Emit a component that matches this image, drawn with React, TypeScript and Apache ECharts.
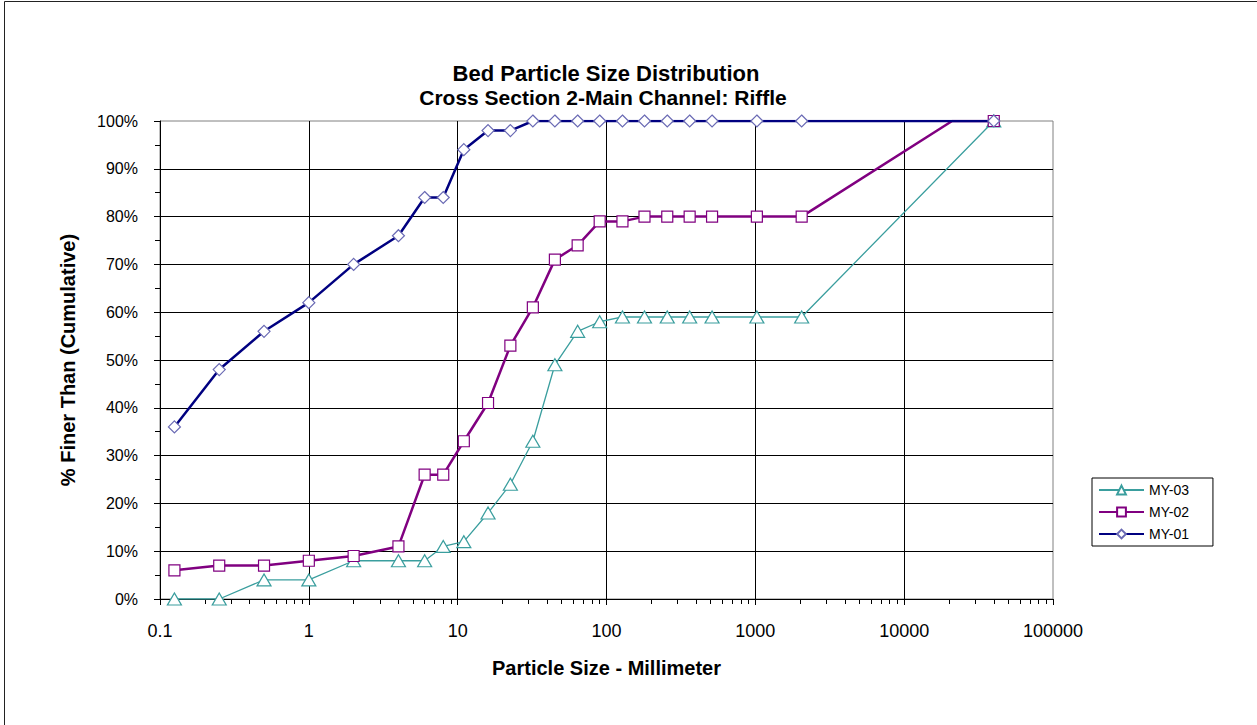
import React, { useEffect, useRef } from "react";
import * as echarts from "echarts";

const FONT = "'Liberation Sans', Arial, sans-serif";

const titleLines = ["Bed Particle Size Distribution", "Cross Section 2-Main Channel: Riffle"];
const xAxisName = "Particle Size - Millimeter";
const yAxisName = "% Finer Than (Cumulative)";
const legendOrder = ["MY-03", "MY-02", "MY-01"];

const sizesMY01 = [0.125, 0.25, 0.5, 1, 2, 4, 6, 8, 11, 16, 22.6, 32, 45, 64, 90, 128, 180, 256, 362, 512, 1024, 2048, 40000];
const valuesMY01 = [36, 48, 56, 62, 70, 76, 84, 84, 94, 98, 98, 100, 100, 100, 100, 100, 100, 100, 100, 100, 100, 100, 100];

const sizesMY02 = [0.125, 0.25, 0.5, 1, 2, 4, 6, 8, 11, 16, 22.6, 32, 45, 64, 90, 128, 180, 256, 362, 512, 1024, 2048, 21000, 40000];
const valuesMY02 = [6, 7, 7, 8, 9, 11, 26, 26, 33, 41, 53, 61, 71, 74, 79, 79, 80, 80, 80, 80, 80, 80, 100, 100];
const hiddenMarkerMY02 = [22];

const sizesMY03 = [0.125, 0.25, 0.5, 1, 2, 4, 6, 8, 11, 16, 22.6, 32, 45, 64, 90, 128, 180, 256, 362, 512, 1024, 2048, 40000];
const valuesMY03 = [0, 0, 4, 4, 8, 8, 8, 11, 12, 18, 24, 33, 49, 56, 58, 59, 59, 59, 59, 59, 59, 59, 100];

const xMin = 0.1;
const xMax = 100000;

function pairs(xs: number[], ys: number[], hidden: number[] = []) {
  return xs.map((x, i) =>
    hidden.includes(i) ? { value: [x, ys[i]], symbol: "none" } : { value: [x, ys[i]] }
  );
}

export default function App() {
  const ref = useRef<HTMLDivElement>(null);
  useEffect(() => {
    if (!ref.current) return;
    const chart = echarts.init(ref.current, null, { renderer: "svg" });
    const option: any = {
      animation: false,
      backgroundColor: "#fff",
      textStyle: { fontFamily: FONT },
      grid: {
        left: 160,
        right: 204,
        top: 121,
        bottom: 126,
        show: true,
        borderColor: "#808080",
        borderWidth: 1,
        backgroundColor: "transparent",
      },
      graphic: [
        {
          type: "rect",
          z: -10,
          shape: { x: 4.5, y: 1.5, width: 1320, height: 800 },
          style: { fill: "none", stroke: "#222", lineWidth: 1 },
          silent: true,
        },
        {
          type: "text",
          x: 606,
          y: 73,
          style: {
            text: titleLines[0],
            textAlign: "center",
            textVerticalAlign: "middle",
            font: `bold 22px ${FONT}`,
            fill: "#000",
          },
        },
        {
          type: "text",
          x: 603,
          y: 97,
          style: {
            text: titleLines[1],
            textAlign: "center",
            textVerticalAlign: "middle",
            font: `bold 21px ${FONT}`,
            fill: "#000",
          },
        },
      ],
      legend: {
        orient: "vertical",
        left: 1092,
        top: 478,
        data: legendOrder,
        borderColor: "#000",
        borderWidth: 1,
        padding: [5, 24, 5, 6],
        itemWidth: 45,
        itemHeight: 11,
        itemGap: 8,
        textStyle: { fontSize: 14, fontFamily: FONT, color: "#000" },
      },
      xAxis: {
        type: "log",
        logBase: 10,
        min: xMin,
        max: xMax,
        name: xAxisName,
        nameLocation: "middle",
        nameGap: 59,
        nameTextStyle: { fontSize: 20, fontWeight: "bold", color: "#000", fontFamily: FONT },
        axisLine: { show: true, lineStyle: { color: "#000", width: 1 } },
        axisTick: { show: true, inside: false, length: 6, lineStyle: { color: "#000" } },
        minorTick: { show: true, splitNumber: 9, length: 5, lineStyle: { color: "#000" } },
        axisLabel: {
          margin: 23,
          fontSize: 18,
          color: "#000",
          fontFamily: FONT,
          showMaxLabel: true,
          formatter: (v: number) => String(Number(v.toPrecision(6))),
        },
        splitLine: { show: true, showMaxLine: false, lineStyle: { color: "#000", width: 1 } },
      },
      yAxis: {
        type: "value",
        min: 0,
        max: 100,
        interval: 10,
        name: yAxisName,
        nameLocation: "middle",
        nameGap: 82,
        nameTextStyle: { fontSize: 20, fontWeight: "bold", color: "#000", fontFamily: FONT },
        axisLine: { show: true, lineStyle: { color: "#000", width: 1 } },
        axisTick: { show: true, inside: false, length: 6, lineStyle: { color: "#000" } },
        minorTick: { show: true, splitNumber: 2, length: 5, lineStyle: { color: "#000" } },
        axisLabel: {
          margin: 22,
          fontSize: 16,
          color: "#000",
          fontFamily: FONT,
          formatter: "{value}%",
        },
        splitLine: { show: true, showMaxLine: false, lineStyle: { color: "#000", width: 1 } },
      },
      series: [
        {
          name: "MY-03",
          type: "line",
          data: pairs(sizesMY03, valuesMY03),
          symbol: "triangle",
          symbolSize: [14, 12],
          lineStyle: { color: "#3a9e9e", width: 1.3 },
          itemStyle: { color: "#fff", borderColor: "#3a9e9e", borderWidth: 1.2 },
          z: 3,
        },
        {
          name: "MY-02",
          type: "line",
          data: pairs(sizesMY02, valuesMY02, hiddenMarkerMY02),
          symbol: "rect",
          symbolSize: 11,
          lineStyle: { color: "#800080", width: 2.5 },
          itemStyle: { color: "#fff", borderColor: "#800080", borderWidth: 1.2 },
          z: 4,
        },
        {
          name: "MY-01",
          type: "line",
          data: pairs(sizesMY01, valuesMY01),
          symbol: "diamond",
          symbolSize: 12,
          lineStyle: { color: "#000080", width: 2.5 },
          itemStyle: { color: "#fff", borderColor: "#6a6ab4", borderWidth: 1.2 },
          z: 5,
        },
      ],
    };
    chart.setOption(option);
    return () => chart.dispose();
  }, []);
  return (
    <div
      ref={ref}
      style={{ position: "fixed", left: 0, top: 0, width: 1257, height: 725, background: "#fff" }}
    />
  );
}
